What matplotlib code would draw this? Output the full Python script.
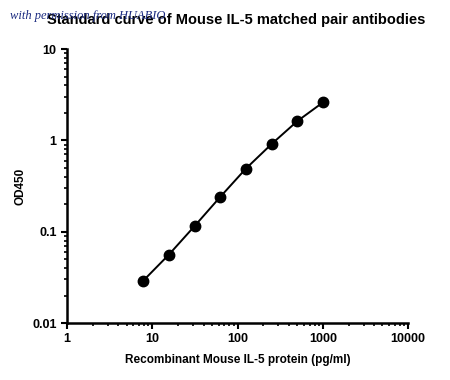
import matplotlib.pyplot as plt
from matplotlib.ticker import LogLocator, NullFormatter, FixedLocator

plt.rcParams['font.family'] = ['Liberation Sans', 'DejaVu Sans']

conc = [7.8125, 15.625, 31.25, 62.5, 125, 250, 500, 1000]
od450 = [0.029, 0.056, 0.115, 0.24, 0.49, 0.91, 1.62, 2.6]

x_ticks = [1, 10, 100, 1000, 10000]
x_labels = ['1', '10', '100', '1000', '10000']
y_ticks = [0.01, 0.1, 1, 10]
y_labels = ['0.01', '0.1', '1', '10']

fig = plt.figure(figsize=(4.5, 3.8), dpi=100)
ax = fig.add_axes([0.149, 0.15, 0.758, 0.721])

ax.plot(conc, od450, color='black', lw=1.4, marker='o', ms=7.5, zorder=3)

ax.set_xscale('log')
ax.set_yscale('log')
ax.set_xlim(1, 10000)
ax.set_ylim(0.01, 10)
ax.xaxis.set_major_locator(FixedLocator(x_ticks))
ax.yaxis.set_major_locator(FixedLocator(y_ticks))
ax.set_xticklabels(x_labels, fontweight='bold', fontsize=9)
ax.set_yticklabels(y_labels, fontweight='bold', fontsize=9)
ax.xaxis.set_minor_locator(LogLocator(base=10, subs=range(2, 10), numticks=20))
ax.yaxis.set_minor_locator(LogLocator(base=10, subs=range(2, 10), numticks=20))
ax.xaxis.set_minor_formatter(NullFormatter())
ax.yaxis.set_minor_formatter(NullFormatter())

for side in ['top', 'right']:
    ax.spines[side].set_visible(False)
for side in ['left', 'bottom']:
    ax.spines[side].set_linewidth(1.8)
ax.tick_params(which='major', length=4.5, width=1.5, pad=3)
ax.tick_params(which='minor', length=2.5, width=1.2)

ax.set_xlabel('Recombinant Mouse IL-5 protein (pg/ml)', fontweight='bold', fontsize=8.5, labelpad=6)
ax.set_ylabel('OD450', fontweight='bold', fontsize=8.5, labelpad=4)

fig.text(0.525, 0.947, 'Standard curve of Mouse IL-5 matched pair antibodies',
         ha='center', va='center', fontweight='bold', fontsize=10.5)
fig.text(0.022, 0.958, 'with permission from HUABIO', ha='left', va='center',
         family='Liberation Serif', style='italic', fontsize=9, color='#1a2a80')

fig.savefig('out.png', dpi=100)
